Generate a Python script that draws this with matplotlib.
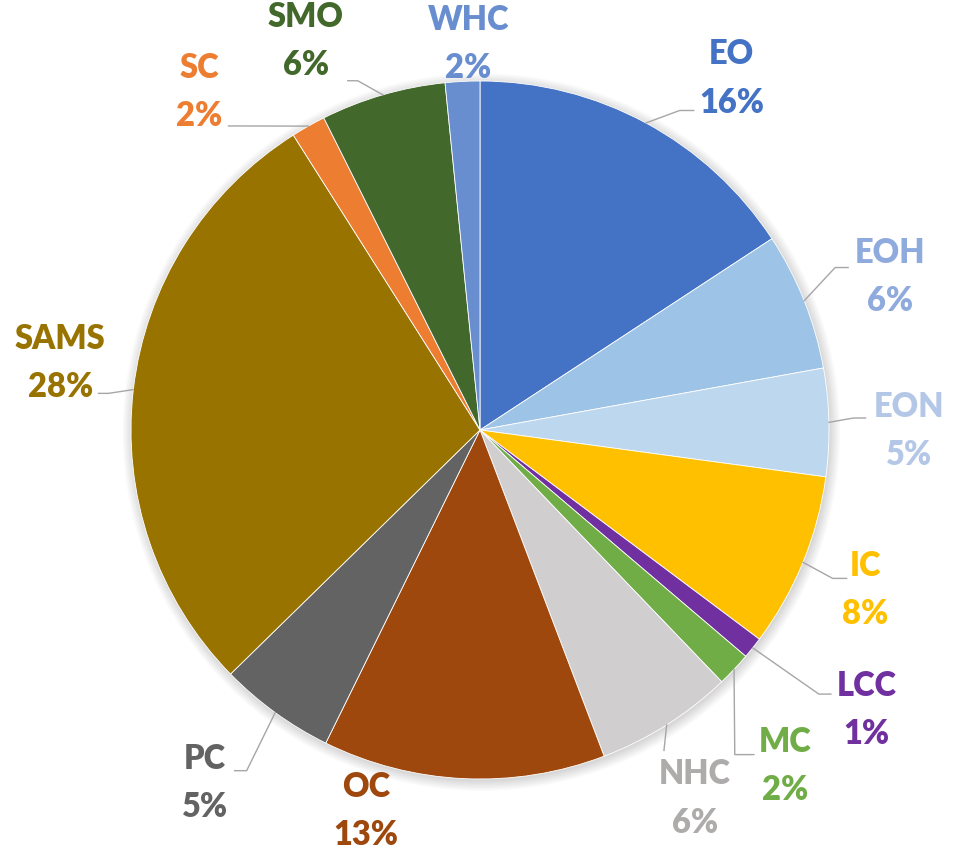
import numpy as np
import matplotlib.pyplot as plt
from matplotlib.patches import Circle

# slice data (clockwise from 12 o'clock)
categories = ['EO', 'EOH', 'EON', 'IC', 'LCC', 'MC', 'NHC', 'OC', 'PC', 'SAMS', 'SC', 'SMO', 'WHC']
shares = [15.8, 6.4, 5.0, 8.1, 1.0, 1.6, 6.4, 13.1, 5.4, 28.4, 1.6, 5.8, 1.6]

slice_colors = ['#4472C4', '#9DC3E6', '#BDD7EE', '#FFC000', '#7030A0', '#70AD47', '#D0CECE',
                '#9E480E', '#636363', '#997300', '#ED7D31', '#43682B', '#698ED0']
label_colors = ['#4472C4', '#8FAADC', '#B4C7E7', '#FFC000', '#7030A0', '#70AD47', '#AEABAB',
                '#9E480E', '#636363', '#997300', '#ED7D31', '#43682B', '#698ED0']

# label layout: distance from centre (in radii) and angle shift from the slice middle
label_dist = [1.25, 1.26, 1.23, 1.19, 1.36, 1.29, 1.21, 1.125, 1.27, 1.22, 1.27, 1.235, 1.12]
label_shift = [-6.8, -0.7, -0.7, 0.3, 3.2, -4.0, -1.75, -14.2, -2.4, -3.1, 9.9, 7.65, -1.2]
# leader line: (relx, rely) on the label box, horizontal tail in px; None = no line
leaders = [(-0.08, 0.10, -14), (-0.1, 0.62, -13), (-0.12, 0.66, -12), (0.1, 0.65, -14),
           (-0.1, 0.70, -12), (-0.1, 0.64, -19), (0.07, 1.10, 0), None,
           (1.14, 0.65, 12), (0.92, 0.12, 10), (1.14, 0.08, 10), (1.05, 0.0, 10), None]

W, H = 959, 856
R = 349.0          # pie radius in px
cx, cy = 480, 430  # pie centre in px (from top left)

fig = plt.figure(figsize=(W / 100, H / 100), dpi=100)
ax = fig.add_axes([0, 0, 1, 1])

# soft shadow behind the pie
for i in range(8):
    ax.add_patch(Circle((0.004, -0.006), 1.0 + 0.004 * i, color='black', alpha=0.018, lw=0, zorder=0))

wedges, _ = ax.pie(shares, colors=slice_colors, startangle=90, counterclock=False,
                   wedgeprops=dict(edgecolor='white', linewidth=0.6))

ax.set_xlim(-cx / R, (W - cx) / R)
ax.set_ylim(-(H - cy) / R, cy / R)
ax.axis('off')

total = sum(shares)
texts = []
for i, w in enumerate(wedges):
    mid = np.deg2rad((w.theta1 + w.theta2) / 2)
    a = mid + np.deg2rad(label_shift[i])
    d = label_dist[i]
    t = ax.text(d * np.cos(a), d * np.sin(a) - 5 / R,
                f'{categories[i]}\n{shares[i] / total * 100:.0f}%',
                ha='center', va='center', ma='center', color=label_colors[i],
                fontsize=23.5, fontweight='heavy', family='Lato', linespacing=1.62)
    texts.append((t, mid))

fig.canvas.draw()
renderer = fig.canvas.get_renderer()
for i, (t, mid) in enumerate(texts):
    if leaders[i] is None:
        continue
    relx, rely, tail = leaders[i]
    bb = t.get_window_extent(renderer).transformed(ax.transData.inverted())
    px = bb.x0 + relx * bb.width
    py = bb.y0 + rely * bb.height
    ex = px + tail / R
    ax.plot([np.cos(mid), ex, px], [np.sin(mid), py, py], color='#A6A6A6', lw=1.0, zorder=3)

fig.savefig('out.png', dpi=100)
